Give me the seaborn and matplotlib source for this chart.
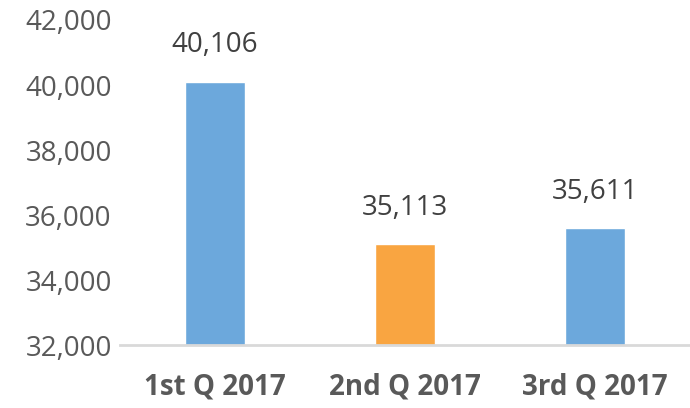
import matplotlib
matplotlib.use("Agg")
import matplotlib.pyplot as plt
import pandas as pd
import seaborn as sns
from matplotlib.ticker import FuncFormatter

# ---------------------------------------------------------------------------
# Data
# ---------------------------------------------------------------------------
quarters = ["1st Q 2017", "2nd Q 2017", "3rd Q 2017"]
values = [40106, 35113, 35611]
bar_colors = ["#6CA8DC", "#F9A541", "#6CA8DC"]
y_ticks = [32000, 34000, 36000, 38000, 40000, 42000]

TEXT = "#595959"

sns.set_theme(style="white")
plt.rcParams["font.family"] = ["Liberation Sans Narrow", "Open Sans", "DejaVu Sans"]

df = pd.DataFrame({"quarter": quarters, "value": values})

fig = plt.figure(figsize=(6.9, 4.08), dpi=100)
ax = fig.add_axes([0.174, 0.154, 0.826, 0.797])

sns.barplot(data=df, x="quarter", y="value", hue="quarter",
            palette=bar_colors, width=0.32, legend=False, ax=ax,
            saturation=1)

ax.set_ylim(y_ticks[0], y_ticks[-1])
ax.set_yticks(y_ticks)
ax.yaxis.set_major_formatter(FuncFormatter(lambda v, _: f"{int(v):,}"))
ax.set_xlabel("")
ax.set_ylabel("")

for side in ("top", "right", "left"):
    ax.spines[side].set_visible(False)
ax.spines["bottom"].set_color("#D9D9D9")
ax.spines["bottom"].set_linewidth(2)

ax.tick_params(axis="y", length=0, labelsize=20, colors=TEXT, pad=6)
ax.tick_params(axis="x", length=0, labelsize=20, colors=TEXT, pad=20)
for lbl in ax.get_xticklabels():
    lbl.set_fontweight("bold")

for container in ax.containers:
    ax.bar_label(container, labels=[f"{int(v):,}" for v in container.datavalues],
                 padding=16, fontsize=20, color="#404040")

fig.savefig("out.png", dpi=100)
